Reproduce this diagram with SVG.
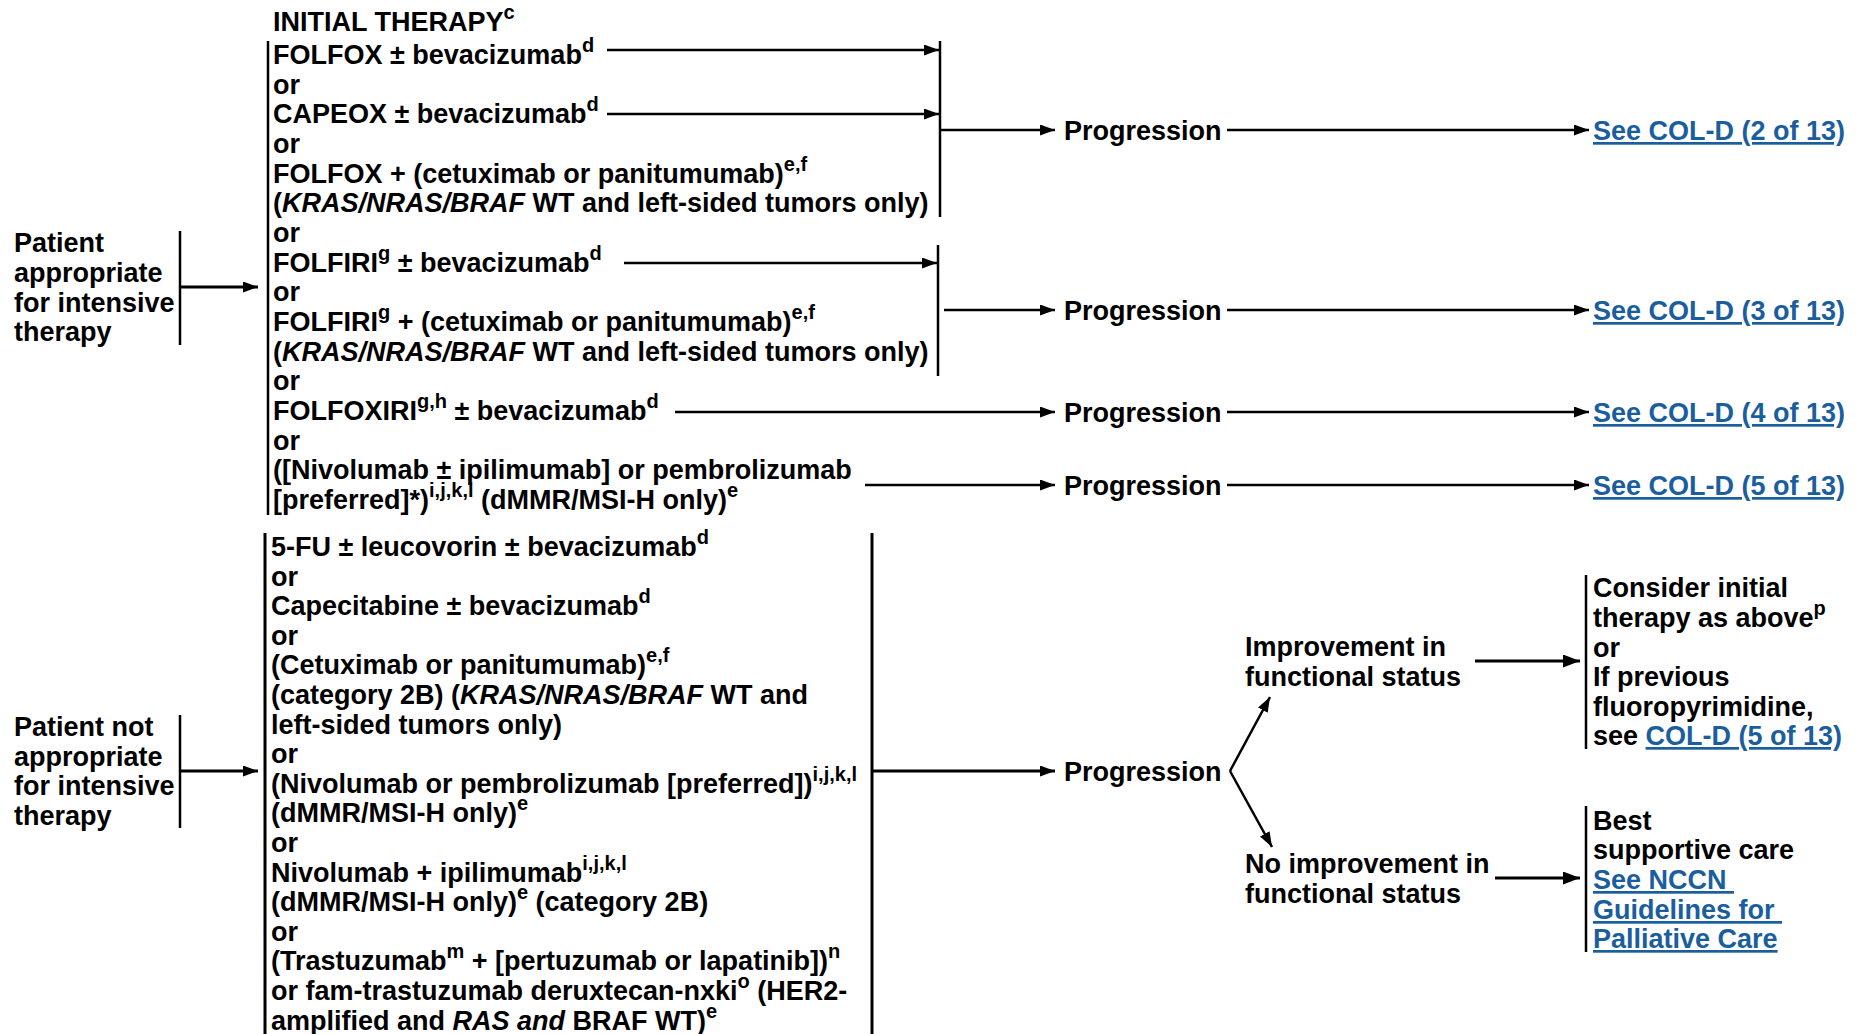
<svg xmlns="http://www.w3.org/2000/svg" width="1858" height="1034" viewBox="0 0 1858 1034">
<style>
text{font-family:"Liberation Sans",Arial,Helvetica,sans-serif;font-size:27px;font-weight:bold;fill:#000}
.s{font-size:20px}
.i{font-style:italic}
.lk{fill:#1b5e9e;text-decoration:underline}
.ln{stroke:#000;stroke-width:2.5;fill:none}
.tk{stroke:#000;stroke-width:3;fill:none}
</style>
<defs>
<marker id="ah" viewBox="0 0 15 11" refX="15" refY="5.5" markerWidth="15" markerHeight="11" markerUnits="userSpaceOnUse" orient="auto"><path d="M0,0 L15,5.5 L0,11 z" fill="#000"/></marker>
<marker id="ah2" viewBox="0 0 17 13" refX="17" refY="6.5" markerWidth="17" markerHeight="13" markerUnits="userSpaceOnUse" orient="auto"><path d="M0,0 L17,6.5 L0,13 z" fill="#000"/></marker>
</defs>

<g id="patient-intensive">
<text x="14" y="252">Patient</text>
<text x="14" y="282">appropriate</text>
<text x="14" y="312">for intensive</text>
<text x="14" y="341">therapy</text>
</g>

<g id="initial-therapy">
<text x="273" y="31">INITIAL THERAPY<tspan class="s" dy="-12">c</tspan></text>
<text x="273" y="64">FOLFOX ± bevacizumab<tspan class="s" dy="-12">d</tspan></text>
<text x="273" y="93.6">or</text>
<text x="273" y="123.3">CAPEOX ± bevacizumab<tspan class="s" dy="-12">d</tspan></text>
<text x="273" y="153">or</text>
<text x="273" y="182.6">FOLFOX + (cetuximab or panitumumab)<tspan class="s" dy="-12">e,f</tspan></text>
<text x="273" y="212.3">(<tspan class="i">KRAS/NRAS/BRAF</tspan> WT and left-sided tumors only)</text>
<text x="273" y="242">or</text>
<text x="273" y="271.5">FOLFIRI<tspan class="s" dy="-12">g</tspan><tspan dy="12"> ± bevacizumab</tspan><tspan class="s" dy="-12">d</tspan></text>
<text x="273" y="301">or</text>
<text x="273" y="330.8">FOLFIRI<tspan class="s" dy="-12">g</tspan><tspan dy="12"> + (cetuximab or panitumumab)</tspan><tspan class="s" dy="-12">e,f</tspan></text>
<text x="273" y="360.5">(<tspan class="i">KRAS/NRAS/BRAF</tspan> WT and left-sided tumors only)</text>
<text x="273" y="390">or</text>
<text x="273" y="419.8">FOLFOXIRI<tspan class="s" dy="-12">g,h</tspan><tspan dy="12"> ± bevacizumab</tspan><tspan class="s" dy="-12">d</tspan></text>
<text x="273" y="449.5">or</text>
<text x="273" y="479">([Nivolumab ± ipilimumab] or pembrolizumab</text>
<text x="273" y="508.7">[preferred]*)<tspan class="s" dy="-12">i,j,k,l</tspan><tspan dy="12"> (dMMR/MSI-H only)</tspan><tspan class="s" dy="-12">e</tspan></text>
</g>

<g id="progression-1"><text x="1064" y="140">Progression</text></g>
<g id="progression-2"><text x="1064" y="320">Progression</text></g>
<g id="progression-3"><text x="1064" y="422">Progression</text></g>
<g id="progression-4"><text x="1064" y="495">Progression</text></g>

<g id="col-d-2"><text x="1593" y="140" class="lk">See COL-D (2 of 13)</text></g>
<g id="col-d-3"><text x="1593" y="320" class="lk">See COL-D (3 of 13)</text></g>
<g id="col-d-4"><text x="1593" y="422" class="lk">See COL-D (4 of 13)</text></g>
<g id="col-d-5"><text x="1593" y="495" class="lk">See COL-D (5 of 13)</text></g>

<g id="patient-not-intensive">
<text x="14" y="736">Patient not</text>
<text x="14" y="766">appropriate</text>
<text x="14" y="795">for intensive</text>
<text x="14" y="825">therapy</text>
</g>

<g id="non-intensive-therapy">
<text x="271" y="556">5-FU ± leucovorin ± bevacizumab<tspan class="s" dy="-12">d</tspan></text>
<text x="271" y="585.6">or</text>
<text x="271" y="615.2">Capecitabine ± bevacizumab<tspan class="s" dy="-12">d</tspan></text>
<text x="271" y="644.8">or</text>
<text x="271" y="674.4">(Cetuximab or panitumumab)<tspan class="s" dy="-12">e,f</tspan></text>
<text x="271" y="704">(category 2B) (<tspan class="i">KRAS/NRAS/BRAF</tspan> WT and</text>
<text x="271" y="733.6">left-sided tumors only)</text>
<text x="271" y="763.2">or</text>
<text x="271" y="792.8">(Nivolumab or pembrolizumab [preferred])<tspan class="s" dy="-12">i,j,k,l</tspan></text>
<text x="271" y="822.4">(dMMR/MSI-H only)<tspan class="s" dy="-12">e</tspan></text>
<text x="271" y="852">or</text>
<text x="271" y="881.6">Nivolumab + ipilimumab<tspan class="s" dy="-12">i,j,k,l</tspan></text>
<text x="271" y="911.2">(dMMR/MSI-H only)<tspan class="s" dy="-12">e</tspan><tspan dy="12"> (category 2B)</tspan></text>
<text x="271" y="940.8">or</text>
<text x="271" y="970.4">(Trastuzumab<tspan class="s" dy="-12">m</tspan><tspan dy="12"> + [pertuzumab or lapatinib])</tspan><tspan class="s" dy="-12">n</tspan></text>
<text x="271" y="1000">or fam-trastuzumab deruxtecan-nxki<tspan class="s" dy="-12">o</tspan><tspan dy="12"> (HER2-</tspan></text>
<text x="271" y="1029.6">amplified and <tspan class="i">RAS and</tspan> BRAF WT)<tspan class="s" dy="-12">e</tspan></text>
</g>

<g id="progression-5"><text x="1064" y="781">Progression</text></g>

<g id="improvement">
<text x="1245" y="656">Improvement in</text>
<text x="1245" y="686">functional status</text>
</g>
<g id="no-improvement">
<text x="1245" y="873">No improvement in</text>
<text x="1245" y="903">functional status</text>
</g>

<g id="consider-initial">
<text x="1593" y="597">Consider initial</text>
<text x="1593" y="627">therapy as above<tspan class="s" dy="-12">p</tspan></text>
<text x="1593" y="657">or</text>
<text x="1593" y="686">If previous</text>
<text x="1593" y="716">fluoropyrimidine,</text>
<text x="1593" y="745">see <tspan class="lk">COL-D (5 of 13)</tspan></text>
</g>

<g id="best-supportive-care">
<text x="1593" y="830">Best</text>
<text x="1593" y="859">supportive care</text>
<text x="1593" y="889" class="lk" xml:space="preserve">See NCCN </text>
<text x="1593" y="919" class="lk" xml:space="preserve">Guidelines for </text>
<text x="1593" y="948" class="lk">Palliative Care</text>
</g>

<g id="connectors">
<line class="ln" x1="268" y1="41" x2="268" y2="515"/>
<line class="ln" x1="180" y1="231" x2="180" y2="345"/>
<line class="tk" x1="180" y1="287" x2="258" y2="287" marker-end="url(#ah)"/>
<line class="ln" x1="940" y1="41" x2="940" y2="217"/>
<line class="ln" x1="607" y1="50" x2="939" y2="50" marker-end="url(#ah)"/>
<line class="ln" x1="607" y1="114" x2="939" y2="114" marker-end="url(#ah)"/>
<line class="ln" x1="940" y1="130" x2="1055" y2="130" marker-end="url(#ah)"/>
<line class="ln" x1="1227" y1="130" x2="1589" y2="130" marker-end="url(#ah)"/>
<line class="ln" x1="938" y1="245" x2="938" y2="376"/>
<line class="ln" x1="624" y1="263" x2="937" y2="263" marker-end="url(#ah)"/>
<line class="ln" x1="944" y1="310" x2="1055" y2="310" marker-end="url(#ah)"/>
<line class="ln" x1="1227" y1="310" x2="1589" y2="310" marker-end="url(#ah)"/>
<line class="ln" x1="675" y1="412" x2="1055" y2="412" marker-end="url(#ah)"/>
<line class="ln" x1="1227" y1="412" x2="1589" y2="412" marker-end="url(#ah)"/>
<line class="ln" x1="865" y1="485" x2="1055" y2="485" marker-end="url(#ah)"/>
<line class="ln" x1="1227" y1="485" x2="1589" y2="485" marker-end="url(#ah)"/>
<line class="tk" x1="265" y1="533" x2="265" y2="1034"/>
<line class="tk" x1="872" y1="533" x2="872" y2="1034"/>
<line class="ln" x1="180" y1="715" x2="180" y2="828"/>
<line class="tk" x1="180" y1="771" x2="258" y2="771" marker-end="url(#ah)"/>
<line class="tk" x1="872" y1="771" x2="1055" y2="771" marker-end="url(#ah)"/>
<line class="ln" x1="1230" y1="771" x2="1270" y2="697" marker-end="url(#ah)"/>
<line class="ln" x1="1230" y1="771" x2="1272" y2="847" marker-end="url(#ah)"/>
<line class="tk" x1="1475" y1="661" x2="1580" y2="661" marker-end="url(#ah2)"/>
<line class="tk" x1="1495" y1="878" x2="1580" y2="878" marker-end="url(#ah2)"/>
<line class="ln" x1="1586" y1="575" x2="1586" y2="749"/>
<line class="ln" x1="1586" y1="806" x2="1586" y2="952"/>
</g>
</svg>
